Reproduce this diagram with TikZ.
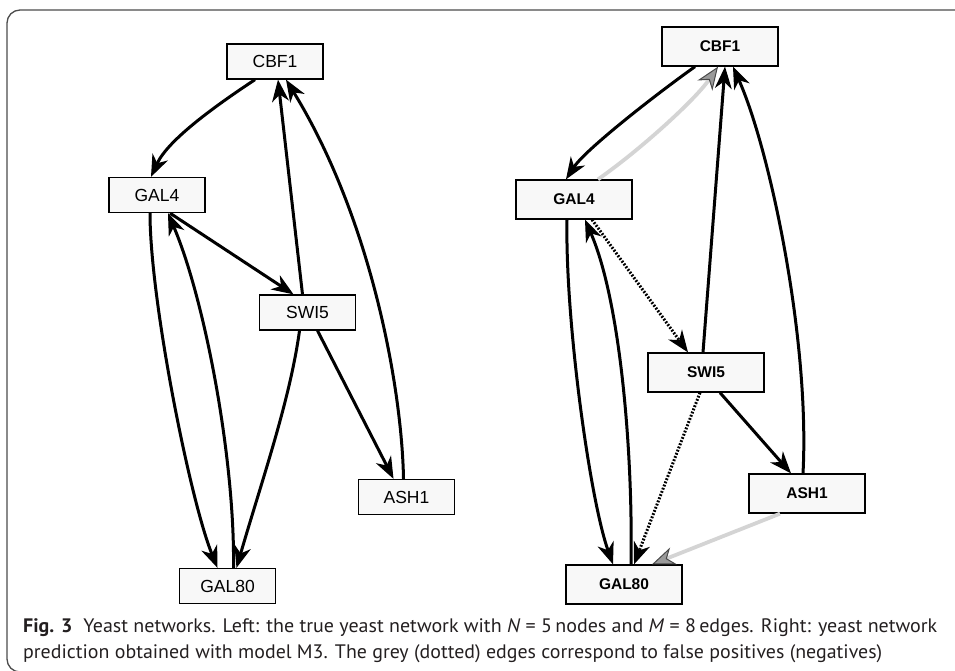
\documentclass[tikz,border=0pt]{standalone}
\usepackage{fontspec}
\setmainfont{Liberation Sans}
\newfontfamily\capfont{PT Sans}
\usetikzlibrary{arrows.meta}
\definecolor{capink}{HTML}{231F20}
\definecolor{boxfill}{HTML}{F8F8F8}
\definecolor{fpline}{HTML}{D4D4D4}
\definecolor{fphead}{HTML}{9A9A9A}
\definecolor{fprim}{HTML}{4A4A4A}
\tikzset{
  gene/.style={draw=black, line width=1.3pt, fill=boxfill, inner sep=0pt,
    minimum width=96pt, minimum height=35pt, font=\fontsize{17.5}{20}\selectfont},
  geneb/.style={gene, minimum width=116pt, minimum height=39pt,
    font=\fontsize{15.5}{18}\selectfont\bfseries},
  tipA/.style={-{Stealth[length=22pt, width=17pt, inset=7pt, line width=1.2pt]}},
  edge/.style={line width=3pt, draw=black, tipA},
  dotedge/.style={line width=3pt, draw=black, dash pattern=on 1.8pt off 1.6pt,
    -{Stealth[length=22pt, width=17pt, inset=7pt, line width=1.2pt]}},
  fpedge/.style={line width=3.8pt, draw=fpline,
    -{Stealth[length=23pt, width=18pt, inset=7pt, color=fprim, fill=fphead, line width=1pt]}},
  frame/.style={draw=black!70, line width=1.3pt, rounded corners=13pt},
}
\begin{document}
\begin{tikzpicture}[x=1pt, y=-1pt]
\useasboundingbox (0,0) rectangle (955,670);
\clip (0,0) rectangle (955,670);
\draw[frame] (7,10) rectangle (990,672);

% true network
\node[gene] (lC)  at (275,61.5)  {CBF1};
\node[gene] (lG)  at (157,195)   {GAL4};
\node[gene] (lS)  at (307.5,312.5) {SWI5};
\node[gene] (lA)  at (406.5,497) {ASH1};
\node[gene] (lG8) at (227.5,586) {GAL80};

\draw[edge] ([xshift=-20pt]lC.south) .. controls (215,106) and (168,140) .. ([xshift=-6pt]lG.north);
\draw[edge] ([xshift=-5pt]lS.north) -- ([xshift=3pt]lC.south);
\draw[edge] ([xshift=-3pt]lA.north) .. controls (402,390) and (372,220) .. ([xshift=11pt]lC.south);
\draw[edge] ([xshift=13pt]lG.south) -- ([xshift=-14pt]lS.north);
\draw[edge] ([xshift=-7pt]lG.south) .. controls (150,300) and (190,500) .. ([xshift=-10pt]lG8.north);
\draw[edge] ([xshift=6pt]lG8.north) .. controls (235,460) and (205,300) .. ([xshift=11pt]lG.south);
\draw[edge] ([xshift=-8pt]lS.south) .. controls (290,400) and (262,480) .. ([xshift=9pt]lG8.north);
\draw[edge] ([xshift=10pt]lS.south) -- ([xshift=-13pt]lA.north);

% predicted network (model M3)
\node[geneb] (rC)  at (720,46.5)  {CBF1};
\node[geneb] (rG)  at (574,199.5) {GAL4};
\node[geneb] (rS)  at (706,372.5) {SWI5};
\node[geneb] (rA)  at (807,493.5) {ASH1};
\node[geneb] (rG8) at (624,584.5) {GAL80};

\draw[fpedge] ([xshift=24pt]rG.north) .. controls (640,150) and (695,100) .. ([xshift=-2pt]rC.south);
\draw[fpedge] ([xshift=-27pt]rA.south) -- ([xshift=28pt]rG8.north);
\draw[edge] ([xshift=-25pt]rC.south) .. controls (655,95) and (585,150) .. ([xshift=-8pt]rG.north);
\draw[edge] ([xshift=-3pt]rS.north) -- ([xshift=5pt]rC.south);
\draw[edge] ([xshift=-4pt]rA.north) .. controls (810,340) and (770,150) .. ([xshift=13pt]rC.south);
\draw[dotedge] ([xshift=18pt]rG.south) -- ([xshift=-18pt]rS.north);
\draw[edge] ([xshift=-7pt]rG.south) .. controls (565,320) and (590,500) .. ([xshift=-11pt]rG8.north);
\draw[edge] ([xshift=7pt]rG8.north) .. controls (633,450) and (620,300) .. ([xshift=11pt]rG.south);
\draw[dotedge] ([xshift=-6pt]rS.south) -- ([xshift=10pt]rG8.north);
\draw[edge] ([xshift=14pt]rS.south) -- ([xshift=-16pt]rA.north);

% caption
\node[anchor=base west, inner sep=0pt, text=capink] (cap1) at (23,632)
  {\resizebox{914pt}{\height}{\capfont\fontsize{19.5}{24}\selectfont\textbf{Fig. 3}\hspace{0.55em}Yeast networks. Left: the true yeast network with \textit{N} = 5\,nodes and \textit{M} = 8\,edges. Right: yeast network}};
\node[anchor=base west, inner sep=0pt, text=capink] (cap2) at (23,658)
  {\resizebox{859pt}{\height}{\capfont\fontsize{19.5}{24}\selectfont prediction obtained with model M3. The grey (dotted) edges correspond to false positives (negatives)}};
\end{tikzpicture}
\end{document}
